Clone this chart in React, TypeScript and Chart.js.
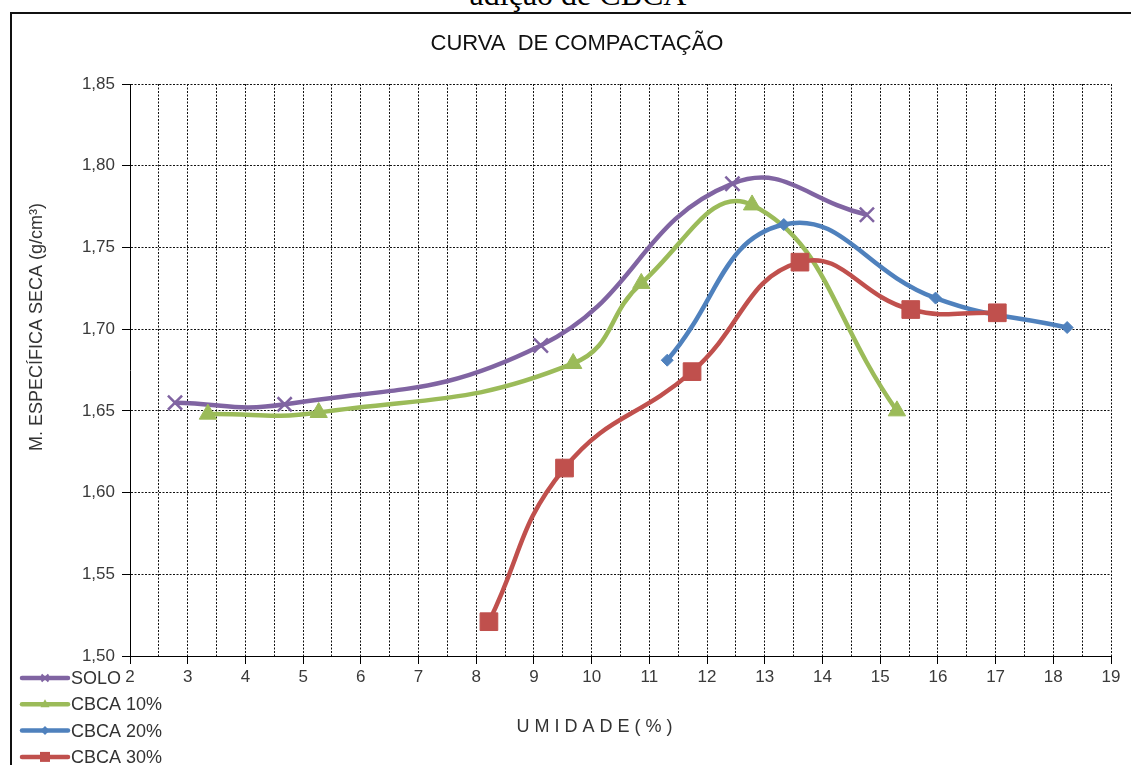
import React, { useEffect, useRef } from 'react';
import { Chart, registerables } from 'chart.js';

Chart.register(...registerables);

// ---------- text ----------
const captionText = 'adição de CBCA';
const chartTitle = 'CURVA  DE COMPACTAÇÃO';
const xTitle = 'U M I D A D E ( % )';
const yTitle = 'M. ESPECÍFICA SECA (g/cm³)';

// ---------- series ----------
const seriesNames = ['SOLO', 'CBCA 10%', 'CBCA 20%', 'CBCA 30%'];
const seriesColors = ['#8064A2', '#9BBB59', '#4F81BD', '#C0504D'];
const seriesMarkers = ['crossRot', 'triangle', 'rectRot', 'rect'];

const soloX = [2.78, 4.68, 9.12, 12.44, 14.77];
const soloY = [1.655, 1.654, 1.69, 1.789, 1.77];

const cbca10X = [3.35, 5.27, 9.68, 10.86, 12.78, 15.29];
const cbca10Y = [1.648, 1.649, 1.679, 1.728, 1.776, 1.65];

const cbca20X = [11.31, 13.33, 15.96, 18.24];
const cbca20Y = [1.681, 1.764, 1.719, 1.701];

const cbca30X = [8.22, 9.53, 11.74, 13.61, 15.53, 17.03];
const cbca30Y = [1.521, 1.615, 1.674, 1.741, 1.712, 1.71];

const seriesX = [soloX, cbca10X, cbca20X, cbca30X];
const seriesY = [soloY, cbca10Y, cbca20Y, cbca30Y];

// ---------- axes ----------
const xMin = 2;
const xMax = 19;
const xStep = 0.5;
const yMin = 1.5;
const yMax = 1.85;
const yStep = 0.05;

const FONT = "'Liberation Sans', Arial, sans-serif";
const isInt = (v: number) => Math.abs(v - Math.round(v)) < 1e-6;

const markerRadius: Record<string, number> = { crossRot: 10, triangle: 10, rectRot: 6, rect: 12.5 };

function drawLegendMarker(ctx: CanvasRenderingContext2D, style: string, x: number, y: number, color: string) {
  ctx.save();
  ctx.fillStyle = color;
  ctx.strokeStyle = color;
  ctx.beginPath();
  if (style === 'crossRot') {
    ctx.lineWidth = 2;
    ctx.moveTo(x - 3.5, y - 3.5);
    ctx.lineTo(x + 3.5, y + 3.5);
    ctx.moveTo(x + 3.5, y - 3.5);
    ctx.lineTo(x - 3.5, y + 3.5);
    ctx.stroke();
  } else if (style === 'triangle') {
    ctx.moveTo(x, y - 5);
    ctx.lineTo(x + 4.5, y + 3);
    ctx.lineTo(x - 4.5, y + 3);
    ctx.closePath();
    ctx.fill();
  } else if (style === 'rectRot') {
    ctx.moveTo(x, y - 4.5);
    ctx.lineTo(x + 4.5, y);
    ctx.lineTo(x, y + 4.5);
    ctx.lineTo(x - 4.5, y);
    ctx.closePath();
    ctx.fill();
  } else {
    ctx.rect(x - 5, y - 5, 10, 10);
    ctx.fill();
  }
  ctx.restore();
}

const overlayPlugin = {
  id: 'overlayText',
  afterDraw(chart: any) {
    const ctx: CanvasRenderingContext2D = chart.ctx;
    ctx.save();
    // chart title
    ctx.font = `22px ${FONT}`;
    ctx.fillStyle = '#111';
    ctx.textAlign = 'center';
    ctx.textBaseline = 'middle';
    ctx.fillText(chartTitle, 577, 44);

    // axis titles
    ctx.font = `18px ${FONT}`;
    ctx.fillStyle = '#333';
    ctx.fillText(xTitle, 594.5, 727);
    ctx.save();
    ctx.translate(37, 327);
    ctx.rotate(-Math.PI / 2);
    ctx.fillText(yTitle, 0, 0);
    ctx.restore();

    // legend (bottom-left, vertical)
    const rowY0 = 678;
    const rowGap = 26.3;
    ctx.font = `18px ${FONT}`;
    ctx.textAlign = 'left';
    seriesNames.forEach((name, i) => {
      const y = rowY0 + i * rowGap;
      ctx.save();
      ctx.strokeStyle = seriesColors[i];
      ctx.lineWidth = 4.5;
      ctx.lineCap = 'round';
      ctx.beginPath();
      ctx.moveTo(22, y);
      ctx.lineTo(68, y);
      ctx.stroke();
      ctx.restore();
      drawLegendMarker(ctx, seriesMarkers[i], 45, y, seriesColors[i]);
      ctx.fillStyle = '#333';
      ctx.fillText(name, 71, y + 1);
    });
    ctx.restore();
  },
};

export default function App() {
  const canvasRef = useRef<HTMLCanvasElement | null>(null);

  useEffect(() => {
    const canvas = canvasRef.current;
    if (!canvas) return;

    const datasets = seriesNames.map((name, i) => ({
      label: name,
      data: seriesX[i].map((x, j) => ({ x, y: seriesY[i][j] })),
      borderColor: seriesColors[i],
      backgroundColor: seriesColors[i],
      borderWidth: 4.5,
      pointStyle: seriesMarkers[i],
      pointRadius: markerRadius[seriesMarkers[i]],
      pointBorderWidth: seriesMarkers[i] === 'crossRot' ? 2.5 : 1,
      pointBackgroundColor: seriesColors[i],
      pointBorderColor: seriesColors[i],
      tension: 0.45,
      fill: false,
      order: seriesNames.length - i,
    }));

    const chart = new Chart(canvas, {
      type: 'line',
      data: { datasets },
      plugins: [overlayPlugin],
      options: {
        animation: false,
        responsive: false,
        events: [],
        layout: { padding: { left: 10, top: 84, right: 20, bottom: 0 } },
        plugins: {
          legend: { display: false },
          title: { display: false },
          tooltip: { enabled: false },
        },
        scales: {
          x: {
            type: 'linear',
            min: xMin,
            max: xMax,
            afterFit: (s: any) => {
              s.height = 109;
            },
            ticks: {
              stepSize: xStep,
              autoSkip: false,
              maxRotation: 0,
              padding: 3,
              color: '#3a3a3a',
              font: { size: 17, family: FONT },
              callback: (v: any) => (isInt(Number(v)) ? String(Math.round(Number(v))) : ''),
            },
            grid: {
              color: '#111',
              lineWidth: 1,
              tickLength: 8,
              tickColor: (c: any) => (isInt(c.tick.value) ? '#000' : 'rgba(0,0,0,0)'),
              tickBorderDash: [],
            },
            border: { display: true, color: '#000', width: 1, dash: [2, 1.5] },
            title: { display: false },
          },
          y: {
            type: 'linear',
            min: yMin,
            max: yMax,
            afterFit: (s: any) => {
              s.width = 120;
            },
            ticks: {
              stepSize: yStep,
              padding: 7,
              color: '#3a3a3a',
              font: { size: 17, family: FONT },
              callback: (v: any) => Number(v).toFixed(2).replace('.', ','),
            },
            grid: {
              color: '#111',
              lineWidth: 1,
              tickLength: 8,
              tickColor: '#000',
              tickBorderDash: [],
            },
            border: { display: true, color: '#000', width: 1, dash: [2, 1.5] },
            title: { display: false },
          },
        },
      } as any,
    });

    return () => chart.destroy();
  }, []);

  return (
    <div
      style={{
        position: 'fixed',
        left: 0,
        top: 0,
        width: 1131,
        height: 765,
        overflow: 'hidden',
        background: '#fff',
      }}
    >
      <div
        style={{
          position: 'absolute',
          top: -22,
          left: 578,
          transform: 'translateX(-50%)',
          whiteSpace: 'nowrap',
          fontFamily: "'Liberation Serif', 'Times New Roman', serif",
          fontSize: 32,
          lineHeight: '32px',
          color: '#000',
        }}
      >
        {captionText}
      </div>
      <div
        style={{
          position: 'absolute',
          left: 10,
          top: 12,
          width: 1200,
          height: 800,
          borderLeft: '2px solid #111',
          borderTop: '2px solid #111',
        }}
      />
      <canvas
        ref={canvasRef}
        width={1131}
        height={765}
        style={{ position: 'absolute', left: 0, top: 0, width: 1131, height: 765 }}
      />
    </div>
  );
}
